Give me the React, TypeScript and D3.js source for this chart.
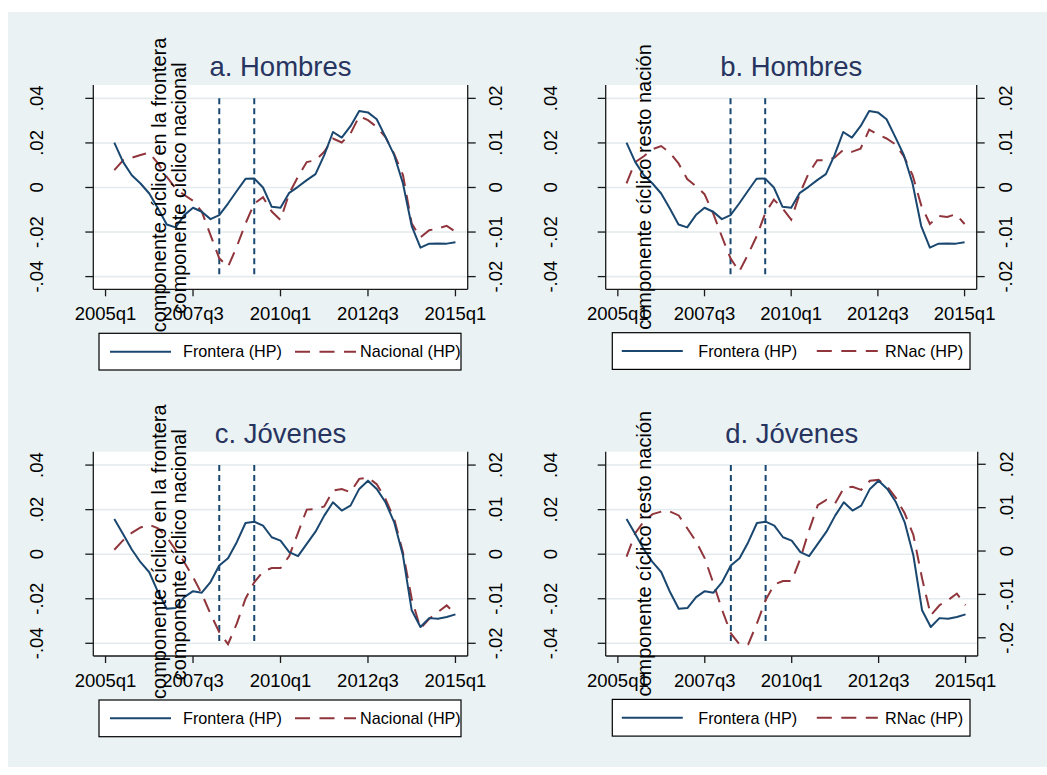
import React from "react";
import * as d3 from "d3";

// ---------- data ----------
const quarters = [
  "2005q2","2005q3","2005q4","2006q1","2006q2","2006q3","2006q4","2007q1","2007q2","2007q3",
  "2007q4","2008q1","2008q2","2008q3","2008q4","2009q1","2009q2","2009q3","2009q4","2010q1",
  "2010q2","2010q3","2010q4","2011q1","2011q2","2011q3","2011q4","2012q1","2012q2","2012q3",
  "2012q4","2013q1","2013q2","2013q3","2013q4","2014q1","2014q2","2014q3","2014q4","2015q1",
];
const xTickLabels = ["2005q1", "2007q3", "2010q1", "2012q3", "2015q1"];
const recessionMarks = ["2008q2", "2009q2"];
const leftTicks = [-0.04, -0.02, 0, 0.02, 0.04];
const leftTickLabels = ["-.04", "-.02", "0", ".02", ".04"];
const rightTicks = [-0.02, -0.01, 0, 0.01, 0.02];
const rightTickLabels = ["-.02", "-.01", "0", ".01", ".02"];

const frontHombres = [0.0201, 0.0115, 0.0055, 0.0018, -0.0027, -0.0094, -0.0166, -0.0179, -0.0124, -0.0091,
  -0.0109, -0.0142, -0.0124, -0.0072, -0.0016, 0.0039, 0.004, 0.0, -0.0087, -0.0091,
  -0.0024, 0.0003, 0.0033, 0.006, 0.0145, 0.0249, 0.0224, 0.0275, 0.0343, 0.0337,
  0.0306, 0.0227, 0.0145, 0.0018, -0.0173, -0.027, -0.0252, -0.0251, -0.0252, -0.0246];
const nacHombres = [0.0039, 0.0061, 0.0067, 0.0073, 0.0078, 0.0054, 0.0024, -0.0002, -0.0017, -0.003,
  -0.0054, -0.0107, -0.0159, -0.0178, -0.0133, -0.0081, -0.0036, -0.0022, -0.0054, -0.0073,
  -0.0013, 0.0024, 0.0057, 0.0061, 0.008, 0.011, 0.0101, 0.0121, 0.016, 0.0151,
  0.0136, 0.0113, 0.0075, 0.0028, -0.0081, -0.0112, -0.0096, -0.0092, -0.0086, -0.0099];
const rnacHombres = [0.0009, 0.0057, 0.007, 0.0086, 0.0093, 0.0078, 0.0054, 0.0019, 0.0003, -0.0015,
  -0.0058, -0.011, -0.0159, -0.0189, -0.0151, -0.011, -0.0058, -0.0027, -0.0047, -0.0072,
  -0.0013, 0.0031, 0.0061, 0.0061, 0.0067, 0.0084, 0.008, 0.0087, 0.013, 0.0119,
  0.011, 0.0097, 0.007, 0.0028, -0.004, -0.0082, -0.0064, -0.0066, -0.006, -0.0082];
const frontJovenes = [0.0158, 0.0091, 0.0021, -0.0036, -0.0081, -0.017, -0.0245, -0.0242, -0.0193, -0.0166,
  -0.0173, -0.0125, -0.0051, -0.0018, 0.0054, 0.014, 0.0146, 0.0128, 0.0076, 0.0061,
  0.0009, -0.0009, 0.0046, 0.0101, 0.0173, 0.0233, 0.0196, 0.0218, 0.0293, 0.033,
  0.0293, 0.0233, 0.0143, -0.0006, -0.0252, -0.0327, -0.0287, -0.029, -0.0282, -0.027];
const nacJovenes = [0.001, 0.0031, 0.0048, 0.006, 0.0066, 0.0058, 0.0038, 0.001, -0.0018, -0.0051,
  -0.0089, -0.0134, -0.0175, -0.0202, -0.0156, -0.01, -0.0063, -0.0039, -0.0031, -0.0031,
  -0.0004, 0.0048, 0.01, 0.0101, 0.0107, 0.0143, 0.0146, 0.0139, 0.0169, 0.0172,
  0.0157, 0.0124, 0.0079, 0.0004, -0.01, -0.0167, -0.0145, -0.013, -0.0115, -0.0134];
const rnacJovenes = [-0.0013, 0.0041, 0.0069, 0.0085, 0.0091, 0.0091, 0.0082, 0.0052, 0.0022, -0.0017,
  -0.0075, -0.0136, -0.019, -0.0215, -0.0215, -0.0167, -0.0113, -0.0077, -0.0069, -0.0069,
  -0.0017, 0.0048, 0.0106, 0.0118, 0.011, 0.0145, 0.0148, 0.0141, 0.0162, 0.0164,
  0.0148, 0.0122, 0.0087, 0.0037, -0.0063, -0.0148, -0.0125, -0.0113, -0.0098, -0.0125];

const seriesLabels = ["Frontera (HP)", "Nacional (HP)", "RNac (HP)"];
const panelTitles = ["a. Hombres", "b. Hombres", "c. Jóvenes", "d. Jóvenes"];
const yTitlesNac = ["componente cíclico en la frontera", "componente cíclico nacional"];
const yTitlesRNac = ["componente cíclico resto nación"];

// ---------- style ----------
const NAVY = "#1a476f";
const MAROON = "#90353b";
const BG = "#eaf2f3";
const GRID = "#e3ebee";
const TITLE = "#27345f";
const FONT = "'Liberation Sans', Arial, Helvetica, sans-serif";

const parseQ = (s: string) => {
  const [y, q] = s.split("q").map(Number);
  return (y - 2005) * 4 + (q - 1);
};

type Panel = {
  title: string;
  blue: number[];
  red: number[];
  redLabel: string;
  yTitles: string[];
  yTitleX: number[];
  yTitleY: number[];
  x0: number; x1: number; y0: number; y1: number;
  rightDomain: [number, number];
  leftLabelX: number;
  rightLabelX: number;
  titleY: number;
  xLabelY: number;
  legend: { x: number; y: number; w: number; h: number; k1: number; t1: number; k2: number; t2: number };
};

const DY = 366.7;
const panels: Panel[] = [
  {
    title: panelTitles[0], blue: frontHombres, red: nacHombres, redLabel: seriesLabels[1],
    yTitles: yTitlesNac, yTitleX: [166, 185.5], yTitleY: [185, 188],
    x0: 93.3, x1: 467.7, y0: 85, y1: 289.3, rightDomain: [-0.02285, 0.023],
    leftLabelX: 43, rightLabelX: 501.5, titleY: 76, xLabelY: 320,
    legend: { x: 99, y: 333.3, w: 362, h: 36.7, k1: 11, t1: 84, k2: 196, t2: 261 },
  },
  {
    title: panelTitles[1], blue: frontHombres, red: rnacHombres, redLabel: seriesLabels[2],
    yTitles: yTitlesRNac, yTitleX: [650.5], yTitleY: [187],
    x0: 605.7, x1: 976.7, y0: 85, y1: 289.3, rightDomain: [-0.02285, 0.023],
    leftLabelX: 556.5, rightLabelX: 1011.5, titleY: 76, xLabelY: 320,
    legend: { x: 612.3, y: 332.7, w: 357.7, h: 36.7, k1: 9.5, t1: 86, k2: 204.5, t2: 272.7 },
  },
  {
    title: panelTitles[2], blue: frontJovenes, red: nacJovenes, redLabel: seriesLabels[1],
    yTitles: yTitlesNac, yTitleX: [166, 185.5], yTitleY: [185 + DY, 188 + DY],
    x0: 93.3, x1: 467.7, y0: 85 + DY, y1: 289.3 + DY, rightDomain: [-0.02285, 0.023],
    leftLabelX: 43, rightLabelX: 501.5, titleY: 76 + DY, xLabelY: 320 + DY,
    legend: { x: 99, y: 333.3 + DY, w: 362, h: 36.7, k1: 11, t1: 84, k2: 196, t2: 261 },
  },
  {
    title: panelTitles[3], blue: frontJovenes, red: rnacJovenes, redLabel: seriesLabels[2],
    yTitles: yTitlesRNac, yTitleX: [650.5], yTitleY: [187 + DY],
    x0: 605.7, x1: 977.7, y0: 85 + DY, y1: 289.3 + DY, rightDomain: [-0.0242, 0.0229],
    leftLabelX: 556.5, rightLabelX: 1012.5, titleY: 76 + DY, xLabelY: 320 + DY,
    legend: { x: 612.3, y: 332.7 + DY, w: 357.7, h: 36.7, k1: 9.5, t1: 86, k2: 204.5, t2: 272.7 },
  },
];

function PanelView({ p }: { p: Panel }) {
  const x = d3.scaleLinear().domain([-1.4, 41.4]).range([p.x0, p.x1]);
  const yL = d3.scaleLinear().domain([-0.0457, 0.046]).range([p.y1, p.y0]);
  const yR = d3.scaleLinear().domain(p.rightDomain).range([p.y1, p.y0]);
  const qx = quarters.map(parseQ);
  const blueLine = d3.line<number>().x((_, i) => x(qx[i])).y((v) => yL(v));
  const redLine = d3.line<number>().x((_, i) => x(qx[i])).y((v) => yR(v));
  const cx = (p.x0 + p.x1) / 2;
  const lg = p.legend;
  const lgCy = lg.y + lg.h / 2;
  return (
    <g>
      <rect x={p.x0} y={p.y0} width={p.x1 - p.x0} height={p.y1 - p.y0} fill="#fff" />
      {leftTicks.map((t) => (
        <line key={"g" + t} x1={p.x0} x2={p.x1} y1={yL(t)} y2={yL(t)} stroke={GRID} strokeWidth={1.6} />
      ))}
      {recessionMarks.map((m) => (
        <line key={m} x1={x(parseQ(m))} x2={x(parseQ(m))} y1={yL(0.04)} y2={yL(-0.04)}
          stroke={NAVY} strokeWidth={2} strokeDasharray="6,4" />
      ))}
      <path d={redLine(p.red) || ""} fill="none" stroke={MAROON} strokeWidth={2} strokeDasharray="14,9" />
      <path d={blueLine(p.blue) || ""} fill="none" stroke={NAVY} strokeWidth={2} strokeLinejoin="round" />
      {/* axes */}
      <line x1={p.x0} x2={p.x0} y1={p.y0} y2={p.y1} stroke="#1a1a1a" strokeWidth={1.3} />
      <line x1={p.x1} x2={p.x1} y1={p.y0} y2={p.y1} stroke="#1a1a1a" strokeWidth={1.3} />
      <line x1={p.x0} x2={p.x1} y1={p.y1} y2={p.y1} stroke="#1a1a1a" strokeWidth={1.3} />
      {leftTicks.map((t, i) => (
        <g key={"l" + t}>
          <line x1={p.x0 - 8} x2={p.x0} y1={yL(t)} y2={yL(t)} stroke="#1a1a1a" strokeWidth={1.3} />
          <text transform={`translate(${p.leftLabelX},${yL(t)}) rotate(-90)`} textAnchor="middle"
            fontSize={18.5} fontFamily={FONT} fill="#000">{leftTickLabels[i]}</text>
        </g>
      ))}
      {rightTicks.map((t, i) => (
        <g key={"r" + t}>
          <line x1={p.x1} x2={p.x1 + 8} y1={yR(t)} y2={yR(t)} stroke="#1a1a1a" strokeWidth={1.3} />
          <text transform={`translate(${p.rightLabelX},${yR(t)}) rotate(-90)`} textAnchor="middle"
            fontSize={18.5} fontFamily={FONT} fill="#000">{rightTickLabels[i]}</text>
        </g>
      ))}
      {xTickLabels.map((l) => (
        <g key={l}>
          <line x1={x(parseQ(l))} x2={x(parseQ(l))} y1={p.y1} y2={p.y1 + 7} stroke="#1a1a1a" strokeWidth={1.3} />
          <text x={x(parseQ(l))} y={p.xLabelY} textAnchor="middle" fontSize={18.5} fontFamily={FONT} fill="#000">{l}</text>
        </g>
      ))}
      {/* y titles */}
      {p.yTitles.map((t, i) => (
        <text key={t} transform={`translate(${p.yTitleX[i]},${p.yTitleY[i]}) rotate(-90)`} textAnchor="middle"
          fontSize={20} fontFamily={FONT} fill="#000">{t}</text>
      ))}
      {/* title */}
      <text x={cx} y={p.titleY} textAnchor="middle" fontSize={27.5} fontFamily={FONT} fill={TITLE}>{p.title}</text>
      {/* legend */}
      <rect x={lg.x} y={lg.y} width={lg.w} height={lg.h} fill="#fff" stroke="#000" strokeWidth={1.2} />
      <line x1={lg.x + lg.k1} x2={lg.x + lg.k1 + 61} y1={lgCy} y2={lgCy} stroke={NAVY} strokeWidth={2} />
      <text x={lg.x + lg.t1} y={lgCy + 5.8} fontSize={16.2} fontFamily={FONT} fill="#000">{seriesLabels[0]}</text>
      <line x1={lg.x + lg.k2} x2={lg.x + lg.k2 + 61} y1={lgCy} y2={lgCy} stroke={MAROON} strokeWidth={2} strokeDasharray="15,9.5" />
      <text x={lg.x + lg.t2} y={lgCy + 5.8} fontSize={16.2} fontFamily={FONT} fill="#000">{p.redLabel}</text>
    </g>
  );
}

export default function App() {
  return (
    <svg width={1047} height={775} style={{ position: "absolute", left: 0, top: 0 }}>
      <rect x={0} y={0} width={1047} height={775} fill="#fff" />
      <rect x={8} y={12} width={1039} height={755} fill={BG} />
      {panels.map((p) => (
        <PanelView key={p.title} p={p} />
      ))}
    </svg>
  );
}
